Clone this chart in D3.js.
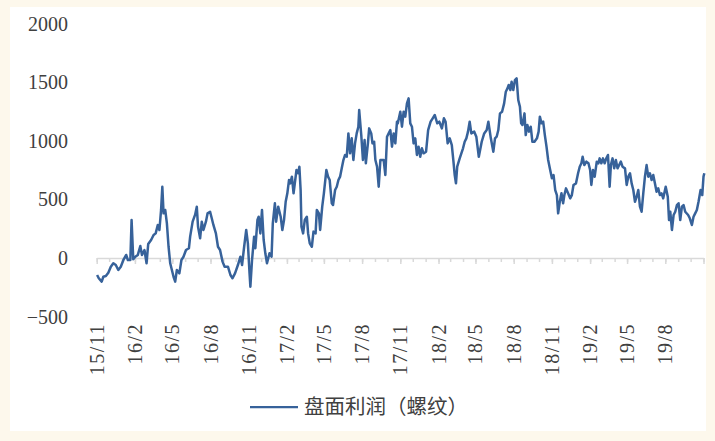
<!DOCTYPE html>
<html>
<head>
<meta charset="utf-8">
<script src="https://cdn.jsdelivr.net/npm/d3@7"></script>
<style>
    html, body { margin: 0; padding: 0; background: #fdf8ec; }
    #chart { width: 715px; height: 441px; }
</style>
</head>
<body>
<div id="chart"></div>
<script>
// 盘面利润（螺纹）
var dates = [
    "2015-11-02","2015-11-06","2015-11-13","2015-11-17","2015-11-23","2015-11-29","2015-12-05","2015-12-11","2015-12-17","2015-12-23","2015-12-29",
    "2016-01-05","2016-01-11","2016-01-15","2016-01-21","2016-01-24","2016-01-28","2016-02-02","2016-02-08","2016-02-14","2016-02-18","2016-02-24","2016-02-29",
    "2016-03-04","2016-03-11","2016-03-17","2016-03-22","2016-03-27","2016-03-31","2016-04-04","2016-04-07","2016-04-10","2016-04-14","2016-04-18","2016-04-22",
    "2016-04-26","2016-04-30","2016-05-04","2016-05-08","2016-05-12","2016-05-18","2016-05-23","2016-05-28","2016-06-03","2016-06-10","2016-06-13","2016-06-19",
    "2016-06-25","2016-06-29","2016-07-02","2016-07-07","2016-07-11","2016-07-15","2016-07-21","2016-07-25","2016-07-31","2016-08-04","2016-08-08","2016-08-14",
    "2016-08-19","2016-08-24","2016-08-30","2016-09-04","2016-09-12","2016-09-18","2016-09-23","2016-09-29","2016-10-06","2016-10-12","2016-10-16","2016-10-21",
    "2016-10-26","2016-10-30","2016-11-03","2016-11-05","2016-11-09","2016-11-14","2016-11-17","2016-11-22","2016-11-25","2016-11-29","2016-12-03","2016-12-07",
    "2016-12-11","2016-12-15","2016-12-21","2016-12-26","2016-12-29",
    "2017-01-03","2017-01-06","2017-01-11","2017-01-17","2017-01-21","2017-01-25","2017-01-29","2017-02-02","2017-02-06","2017-02-09","2017-02-13","2017-02-17",
    "2017-02-20","2017-02-24","2017-02-28","2017-03-03","2017-03-06","2017-03-08","2017-03-12","2017-03-16","2017-03-21","2017-03-24","2017-03-28","2017-04-02",
    "2017-04-06","2017-04-11","2017-04-14","2017-04-19","2017-04-22","2017-04-27","2017-05-01","2017-05-07","2017-05-11","2017-05-15","2017-05-20","2017-05-23",
    "2017-05-28","2017-06-01","2017-06-05","2017-06-09","2017-06-13","2017-06-17","2017-06-21","2017-06-25","2017-06-29","2017-07-03","2017-07-07","2017-07-11",
    "2017-07-15","2017-07-19","2017-07-23","2017-07-25","2017-07-30","2017-08-03","2017-08-07","2017-08-10","2017-08-15","2017-08-18","2017-08-23","2017-08-26",
    "2017-08-30","2017-09-02","2017-09-06","2017-09-10","2017-09-14","2017-09-22","2017-09-26","2017-09-30","2017-10-04","2017-10-08","2017-10-12","2017-10-16",
    "2017-10-20","2017-10-24","2017-10-26","2017-11-01","2017-11-05","2017-11-09","2017-11-13","2017-11-17","2017-11-21","2017-11-25","2017-11-29","2017-12-03",
    "2017-12-07","2017-12-11","2017-12-15","2017-12-19","2017-12-23","2017-12-27",
    "2018-01-02","2018-01-07","2018-01-13","2018-01-18","2018-01-23","2018-01-29","2018-02-03","2018-02-09","2018-02-14","2018-02-18","2018-02-23","2018-02-28",
    "2018-03-05","2018-03-09","2018-03-12","2018-03-15","2018-03-18","2018-03-24","2018-03-28","2018-04-01","2018-04-05","2018-04-09","2018-04-13","2018-04-17",
    "2018-04-21","2018-04-28","2018-05-03","2018-05-09","2018-05-16","2018-05-22","2018-05-28","2018-06-01","2018-06-07","2018-06-13","2018-06-17","2018-06-21",
    "2018-06-25","2018-06-29","2018-07-04","2018-07-09","2018-07-13","2018-07-17","2018-07-20","2018-07-24","2018-07-27","2018-07-31","2018-08-04","2018-08-08",
    "2018-08-12","2018-08-16","2018-08-19","2018-08-22","2018-08-27","2018-08-30","2018-09-03","2018-09-07","2018-09-11","2018-09-15","2018-09-20","2018-09-26",
    "2018-09-30","2018-10-03","2018-10-07","2018-10-11","2018-10-15","2018-10-19","2018-10-23","2018-10-27","2018-11-01","2018-11-05","2018-11-09","2018-11-13",
    "2018-11-16","2018-11-20","2018-11-24","2018-11-28","2018-12-01","2018-12-05","2018-12-10","2018-12-15","2018-12-19","2018-12-23","2018-12-29",
    "2019-01-03","2019-01-07","2019-01-11","2019-01-14","2019-01-18","2019-01-23","2019-01-28","2019-02-01","2019-02-04","2019-02-08","2019-02-12","2019-02-17",
    "2019-02-21","2019-02-24","2019-02-28","2019-03-04","2019-03-08","2019-03-12","2019-03-16","2019-03-20","2019-03-23","2019-03-27","2019-03-31","2019-04-04",
    "2019-04-08","2019-04-12","2019-04-16","2019-04-20","2019-04-26","2019-04-30","2019-05-04","2019-05-08","2019-05-12","2019-05-16","2019-05-20","2019-05-24",
    "2019-05-28","2019-06-01","2019-06-05","2019-06-09","2019-06-13","2019-06-17","2019-06-21","2019-06-25","2019-06-29","2019-07-03","2019-07-07","2019-07-11",
    "2019-07-15","2019-07-19","2019-07-23","2019-07-27","2019-08-02","2019-08-07","2019-08-10","2019-08-13","2019-08-17","2019-08-21","2019-08-25","2019-08-29",
    "2019-09-02","2019-09-06","2019-09-10","2019-09-14","2019-09-18","2019-09-25","2019-09-29","2019-10-04","2019-10-08","2019-10-12","2019-10-16","2019-10-20",
    "2019-10-25","2019-10-29","2019-11-01","2019-11-03"
];
var profit = [
    -145,-173,-202,-160,-154,-125,-74,-45,-60,-102,-74,
    -11,26,-17,-17,324,-11,11,26,102,26,68,-45,
    119,154,196,210,282,239,410,608,381,410,296,96,
    -45,-102,-160,-202,-102,-131,-17,11,68,83,182,310,
    370,438,267,168,310,239,310,381,395,339,282,210,
    96,68,-31,-74,-74,-145,-173,-131,-60,11,-60,96,
    239,125,-131,-245,-17,182,83,324,352,210,410,154,
    40,-45,40,11,296,
    467,310,438,352,239,324,480,552,665,637,694,552,
    637,751,723,779,580,267,210,324,352,210,125,96,
    225,210,410,381,239,438,552,751,694,665,467,452,
    580,608,665,694,765,836,879,864,1063,893,1021,836,
    978,1063,1120,1262,1049,836,1007,808,978,1106,1063,978,
    992,836,779,608,836,836,708,1035,1063,1092,950,1063,
    978,1163,1149,1248,1120,1248,1206,1319,1362,1149,1120,978,
    1021,879,950,864,936,893,
    907,1092,1163,1192,1220,1149,1163,1106,1192,1163,978,1021,
    964,822,708,637,779,850,893,936,992,1021,1078,1163,
    1063,1078,1035,864,992,1063,1092,1163,1021,907,1021,1035,
    1092,1234,1248,1319,1419,1447,1476,1433,1504,1433,1518,1533,
    1348,1291,1149,1135,1234,1049,1135,1078,1120,992,992,1021,
    1078,1206,1149,1163,1049,950,836,765,680,708,580,537,
    381,480,552,467,537,594,552,509,537,623,637,
    723,779,808,864,793,822,808,751,623,751,694,822,
    808,850,808,850,808,850,879,608,793,850,765,836,
    765,793,822,779,765,623,694,723,637,580,480,523,
    580,438,395,552,694,793,694,723,665,708,637,566,
    594,537,552,509,608,523,324,395,239,367,395,452,
    467,324,438,452,395,367,339,282,352,381,410,480,
    580,537,694,723
];
var yTicks = [-500, 0, 500, 1000, 1500, 2000];
var xTickLabels = ["15/11","16/2","16/5","16/8","16/11","17/2","17/5","17/8","17/11","18/2","18/5","18/8","18/11","19/2","19/5","19/8"];
var seriesName = "盘面利润（螺纹）";

var width = 715, height = 441;
var lineColor = "#37629a";
var textColor = "#404040";
var numFont = "'Liberation Serif', 'Times New Roman', serif";

var parseDay = d3.timeParse("%Y-%m-%d");
var parseLabel = d3.timeParse("%y/%m");

var data = dates.map(function(d, i) { return { date: parseDay(d), value: profit[i] }; });
var labelDates = xTickLabels.map(function(s) { return parseLabel(s); });

var svg = d3.select("#chart").append("svg")
    .attr("width", width)
    .attr("height", height);

// white plot panel on cream page
svg.append("rect")
    .attr("x", 10).attr("y", 7)
    .attr("width", 696).attr("height", 424)
    .attr("fill", "#ffffff");

var x = d3.scaleTime()
    .domain([new Date(2015, 10, 1), new Date(2019, 10, 1)])
    .range([96.7, 703.5]);

var y = d3.scaleLinear()
    .domain([-500, 2000])
    .range([316.6, 23.6]);

// y labels, no axis line
var gY = svg.append("g")
    .attr("transform", "translate(68,0)")
    .call(d3.axisLeft(y).tickValues(yTicks).tickSize(0).tickPadding(0).tickFormat(d3.format("d")));
gY.select(".domain").remove();
gY.selectAll("text")
    .attr("font-family", numFont)
    .attr("font-size", 20)
    .attr("fill", textColor);

// zero line with month ticks
var gX = svg.append("g")
    .attr("transform", "translate(0," + y(0) + ")")
    .call(d3.axisBottom(x).ticks(d3.timeMonth.every(1)).tickSize(4).tickSizeOuter(0).tickFormat(""));
var gXMajor = svg.append("g")
    .attr("transform", "translate(0," + y(0) + ")")
    .call(d3.axisBottom(x).tickValues(labelDates.concat([new Date(2019, 10, 1)])).tickSize(6).tickSizeOuter(0).tickFormat(""));
gXMajor.select(".domain").remove();
svg.selectAll(".domain, .tick line")
    .attr("stroke", "#d9d9d9")
    .attr("stroke-width", 1.5);

// rotated date labels sit under the plot
svg.append("g").selectAll("text")
    .data(labelDates)
    .enter().append("text")
    .attr("transform", function(d) { return "translate(" + x(d) + ",323) rotate(-90)"; })
    .attr("text-anchor", "end")
    .attr("dy", "0.35em")
    .attr("font-family", numFont)
    .attr("font-size", 20)
    .attr("letter-spacing", "1.5px")
    .attr("fill", textColor)
    .text(function(d, i) { return xTickLabels[i]; });

var line = d3.line()
    .x(function(d) { return x(d.date); })
    .y(function(d) { return y(d.value); });

svg.append("path")
    .datum(data)
    .attr("d", line)
    .attr("fill", "none")
    .attr("stroke", lineColor)
    .attr("stroke-width", 2.5)
    .attr("stroke-linejoin", "round");

// legend
var legend = svg.append("g").attr("transform", "translate(250,407)");
legend.append("line")
    .attr("x1", 0).attr("x2", 48)
    .attr("stroke", lineColor)
    .attr("stroke-width", 2.25);
legend.append("text")
    .attr("x", 54)
    .attr("dy", "0.35em")
    .attr("font-family", "'Noto Sans CJK SC', sans-serif")
    .attr("font-size", 20.5)
    .attr("fill", textColor)
    .text(seriesName);
</script>
</body>
</html>
